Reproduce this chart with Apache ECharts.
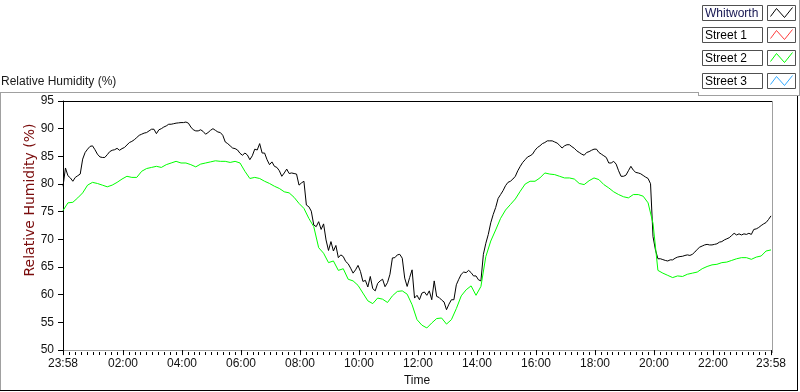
<!DOCTYPE html>
<html>
<head>
<meta charset="utf-8">
<script src="https://cdn.jsdelivr.net/npm/echarts@6/dist/echarts.min.js"></script>
<style>
  html, body { margin: 0; padding: 0; background: #fff; }
  #chart { width: 800px; height: 392px; }
</style>
</head>
<body>
<div id="chart"></div>
<script>
// minutes after 23:58 between two samples
const whitworthStep = 5
const street2Step = 10

// one row per hour
const whitworth = [
  79.6, 82.9, 81.5, 81.1, 80.5, 81.2, 81.5, 81.8, 84.5, 85.7, 86.3, 86.8,
  86.9, 86.2, 85.4, 84.9, 84.8, 84.8, 85.3, 85.85, 86.1, 86.2, 86.45, 86.1,
  86.4, 86.6, 87.05, 87.5, 87.7, 88.0, 88.4, 88.8, 89.0, 89.2, 89.3, 89.6,
  89.9, 89.9, 89.1, 89.8, 90.0, 90.3, 90.5, 90.8, 90.8, 90.9, 91.0, 91.05,
  91.1, 91.1, 91.2, 91.0, 90.3, 89.8, 89.6, 89.6, 89.8, 89.5, 89.0, 89.3,
  89.7, 90.0, 89.7, 89.4, 89.3, 88.8, 87.6, 87.3, 86.9, 86.5, 86.4, 86.15,
  85.55, 85.2, 85.6, 85.25, 84.4, 85.1, 86.3, 86.15, 87.3, 85.6, 85.6, 84.4,
  83.5, 84.0, 83.2, 83.0, 82.4, 81.4, 82.0, 82.7, 81.9, 82.0, 81.9, 81.8,
  79.8, 80.2, 80.5, 76.2, 75.9, 75.1, 72.6, 72.3, 73.2, 71.8, 72.8, 69.9,
  68.0, 69.6, 67.9, 68.9, 66.7, 67.2, 66.9, 66.0, 65.6, 64.8, 63.9, 64.5,
  65.3, 64.2, 62.4, 62.6, 61.4, 63.3, 61.1, 60.7, 62.05, 62.5, 62.8, 61.45,
  62.2, 63.7, 66.65, 66.7, 67.2, 67.3, 66.6, 63.0, 61.5, 63.1, 64.5, 59.4,
  59.9, 59.1, 60.3, 60.5, 59.9, 60.7, 59.1, 62.5, 59.7, 59.5, 59.05, 58.7,
  57.3, 58.3, 59.1, 59.1, 61.8, 62.8, 63.7, 64.1, 64.0, 64.4, 64.0, 63.4,
  63.4, 62.7, 62.5, 67.3, 69.3, 70.9, 73.0, 74.5, 75.75, 77.4, 78.1, 78.8,
  79.7, 80.3, 80.5, 80.9, 81.4, 82.4, 83.2, 83.9, 84.4, 84.9, 85.1, 85.4,
  86.1, 86.6, 86.9, 87.3, 87.5, 87.8, 87.8, 87.8, 87.6, 87.4, 87.0, 86.5,
  86.9, 87.1, 87.1, 86.75, 86.45, 86.0, 85.7, 85.4, 85.2, 85.7, 85.85, 86.1,
  86.3, 86.3, 85.7, 85.4, 85.1, 84.8, 83.8, 83.8, 84.1, 83.6, 82.4, 81.4,
  81.4, 81.6, 82.4, 83.2, 82.5, 82.1, 82.0, 81.85, 81.55, 81.25, 81.0, 80.05,
  70.5, 68.1, 66.5, 66.5, 66.35, 66.2, 66.1, 66.3, 66.3, 66.6, 66.8, 66.9,
  66.95, 67.1, 67.2, 67.1, 67.3, 67.7, 68.2, 68.6, 68.8, 69.0, 69.1, 69.0,
  69.0, 69.1, 69.2, 69.5, 69.6, 69.9, 70.1, 70.3, 70.7, 71.1, 70.8, 71.0,
  70.8, 71.0, 70.9, 71.1, 70.9, 71.8, 71.9, 72.15, 72.5, 72.8, 73.05, 73.6,
  74.25
]

const street1 = []

const street2 = [
  75.2, 76.6, 76.7, 77.5, 78.4, 79.8, 80.3, 80.1, 79.8, 79.5,
  79.8, 80.3, 80.9, 81.4, 81.2, 81.2, 82.3, 82.8, 83.0, 83.2,
  83.0, 83.5, 83.8, 84.1, 83.8, 83.8, 83.5, 83.1, 83.6, 83.8,
  84.0, 84.2, 84.1, 84.1, 83.9, 84.1, 83.8, 82.3, 81.0, 81.2,
  81.0, 80.5, 80.1, 79.6, 79.2, 78.6, 78.4, 77.6, 76.5, 75.6,
  73.8, 72.3, 68.5, 67.5, 65.8, 66.1, 64.4, 64.7, 62.8, 62.5,
  61.7, 60.3, 58.9, 58.4, 59.4, 59.2, 58.6, 59.8, 60.6, 60.7,
  60.1, 58.2, 55.5, 54.5, 54.0, 54.9, 55.7, 55.8, 54.7, 55.5,
  57.5, 59.8, 60.9, 61.6, 59.9, 61.5, 66.9, 69.7, 71.7, 73.8,
  75.3, 76.3, 77.3, 78.7, 80.0, 80.5, 80.5, 81.1, 82.0, 81.8,
  81.7, 81.4, 81.1, 81.1, 80.9, 80.1, 79.9, 80.6, 81.1, 80.8,
  79.9, 79.3, 78.6, 78.1, 77.7, 77.5, 78.1, 78.1, 77.8, 76.6,
  72.9, 64.4, 63.9, 63.5, 63.1, 63.4, 63.3, 63.7, 63.9, 64.1,
  64.7, 65.1, 65.4, 65.5, 65.8, 65.9, 66.2, 66.5, 66.7, 66.7,
  66.4, 66.8, 67.0, 67.9, 68.1
]

const street3 = []

// x ticks, minutes after 23:58
const tickMinutes = [0, 122, 242, 362, 482, 602, 722, 842, 962, 1082, 1202, 1322, 1440]
const tickLabels = ['23:58', '02:00', '04:00', '06:00', '08:00', '10:00', '12:00',
  '14:00', '16:00', '18:00', '20:00', '22:00', '23:58']

const legendNames = ['Whitworth', 'Street 1', 'Street 2', 'Street 3']
const seriesColors = ['#000000', '#ff3c3c', '#00ff00', '#33aaff']
const seriesData = [whitworth, street1, street2, street3]
const seriesSteps = [whitworthStep, 10, street2Step, 10]

function toPairs (arr, step) {
  return arr.map((v, i) => [i * step, v])
}

// 9 minor ticks between each pair of labelled ticks
let minorTicks = []
for (let i = 0; i < tickMinutes.length - 1; i++) {
  let a = tickMinutes[i]
  let b = tickMinutes[i + 1]
  for (let k = 1; k < 10; k++) {
    minorTicks.push(a + (b - a) * k / 10)
  }
}

const FONT = 'Liberation Sans'
let chartDom = document.getElementById('chart')
let myChart = echarts.init(chartDom, null, {renderer: 'canvas'})

let graphics = []
// outer panel
graphics.push({type: 'line', silent: true, shape: {x1: 0, y1: 92.5, x2: 698, y2: 92.5}, style: {stroke: '#a0a0a0', lineWidth: 1}})
graphics.push({type: 'line', silent: true, shape: {x1: 0.5, y1: 92, x2: 0.5, y2: 391}, style: {stroke: '#a0a0a0', lineWidth: 1}})
graphics.push({type: 'line', silent: true, shape: {x1: 0, y1: 390.5, x2: 798, y2: 390.5}, style: {stroke: '#000', lineWidth: 1}})
graphics.push({type: 'line', silent: true, shape: {x1: 797.5, y1: 95, x2: 797.5, y2: 391}, style: {stroke: '#000', lineWidth: 1}})
// legend panel
graphics.push({type: 'line', silent: true, shape: {x1: 698.5, y1: 92, x2: 698.5, y2: 95}, style: {stroke: '#a0a0a0', lineWidth: 1}})
graphics.push({type: 'line', silent: true, shape: {x1: 698, y1: 95.5, x2: 800, y2: 95.5}, style: {stroke: '#a0a0a0', lineWidth: 1}})
graphics.push({type: 'line', silent: true, shape: {x1: 799.5, y1: 0, x2: 799.5, y2: 96}, style: {stroke: '#a0a0a0', lineWidth: 1}})
// plot frame top and right
graphics.push({type: 'line', silent: true, shape: {x1: 62, y1: 101.5, x2: 772, y2: 101.5}, style: {stroke: '#000', lineWidth: 1}})
graphics.push({type: 'line', silent: true, shape: {x1: 772.5, y1: 101, x2: 772.5, y2: 353}, style: {stroke: '#a0a0a0', lineWidth: 1}})

for (let i = 0; i < legendNames.length; i++) {
  let top = Math.round(4.5 + i * 22.8) + 0.5
  graphics.push({
    type: 'rect', silent: true,
    shape: {x: 702.5, y: top, width: 60, height: 15},
    style: {fill: '#fff', stroke: '#505050', lineWidth: 1}
  })
  graphics.push({
    type: 'text', silent: true,
    x: 705, y: top + 8,
    style: {text: legendNames[i], font: '12px "' + FONT + '"', fill: i === 0 ? '#141450' : '#000', verticalAlign: 'middle'}
  })
  let ix = 767.5
  graphics.push({
    type: 'rect', silent: true,
    shape: {x: ix, y: top, width: 28, height: 15},
    style: {fill: '#fff', stroke: '#505050', lineWidth: 1}
  })
  graphics.push({
    type: 'polyline', silent: true,
    shape: {points: [[ix + 3, top + 11], [ix + 9, top + 3], [ix + 17, top + 12], [ix + 25, top + 2]]},
    style: {stroke: seriesColors[i], lineWidth: 1, fill: null}
  })
}

// rotated y axis title
graphics.push({
  type: 'text', silent: true,
  x: 30, y: 200, rotation: Math.PI / 2,
  style: {text: 'Relative Humidity (%)', font: '14px "DejaVu Sans"', fill: '#7a0c0c', align: 'center', verticalAlign: 'middle'}
})

let gridBox = {left: 63, top: 101, width: 708, height: 251, containLabel: false}

let option = {
  animation: false,
  backgroundColor: '#fff',
  title: {
    text: 'Relative Humidity (%)',
    left: 1,
    top: 76,
    padding: 0,
    textStyle: {fontFamily: FONT, fontSize: 12, fontWeight: 'normal', color: '#1a1a1a'}
  },
  grid: [gridBox, Object.assign({}, gridBox)],
  xAxis: [
    {
      type: 'value',
      gridIndex: 0,
      min: 0,
      max: 1440,
      name: 'Time',
      nameLocation: 'middle',
      nameGap: 23,
      nameTextStyle: {fontFamily: FONT, fontSize: 12, color: '#111'},
      axisLine: {show: true, lineStyle: {color: '#a0a0a0', width: 1}},
      axisTick: {show: true, customValues: tickMinutes, length: 5, lineStyle: {color: '#000'}},
      axisLabel: {
        customValues: tickMinutes,
        margin: 8,
        fontFamily: FONT,
        fontSize: 12,
        color: '#111',
        formatter: function (v) {
          let idx = tickMinutes.indexOf(v)
          return idx >= 0 ? tickLabels[idx] : ''
        }
      },
      splitLine: {show: false}
    },
    {
      // minor ticks only
      type: 'value',
      gridIndex: 1,
      min: 0,
      max: 1440,
      position: 'bottom',
      axisLine: {show: false},
      axisTick: {show: true, customValues: minorTicks, length: 3, lineStyle: {color: '#000'}},
      axisLabel: {show: false},
      splitLine: {show: false}
    }
  ],
  yAxis: [
    {
      type: 'value',
      gridIndex: 0,
      min: 50,
      max: 95,
      interval: 5,
      axisLine: {show: true, lineStyle: {color: '#000', width: 1}},
      axisTick: {show: true, length: 5, lineStyle: {color: '#000'}},
      axisLabel: {margin: 9, fontFamily: FONT, fontSize: 12, color: '#111'},
      splitLine: {show: false}
    },
    {
      type: 'value',
      gridIndex: 1,
      min: 50,
      max: 95,
      show: false
    }
  ],
  graphic: graphics,
  series: legendNames.map((name, i) => ({
    name: name,
    type: 'line',
    xAxisIndex: 0,
    yAxisIndex: 0,
    showSymbol: false,
    symbol: 'none',
    lineStyle: {color: seriesColors[i], width: 1},
    itemStyle: {color: seriesColors[i]},
    data: toPairs(seriesData[i], seriesSteps[i])
  }))
}

option && myChart.setOption(option)
</script>
</body>
</html>
